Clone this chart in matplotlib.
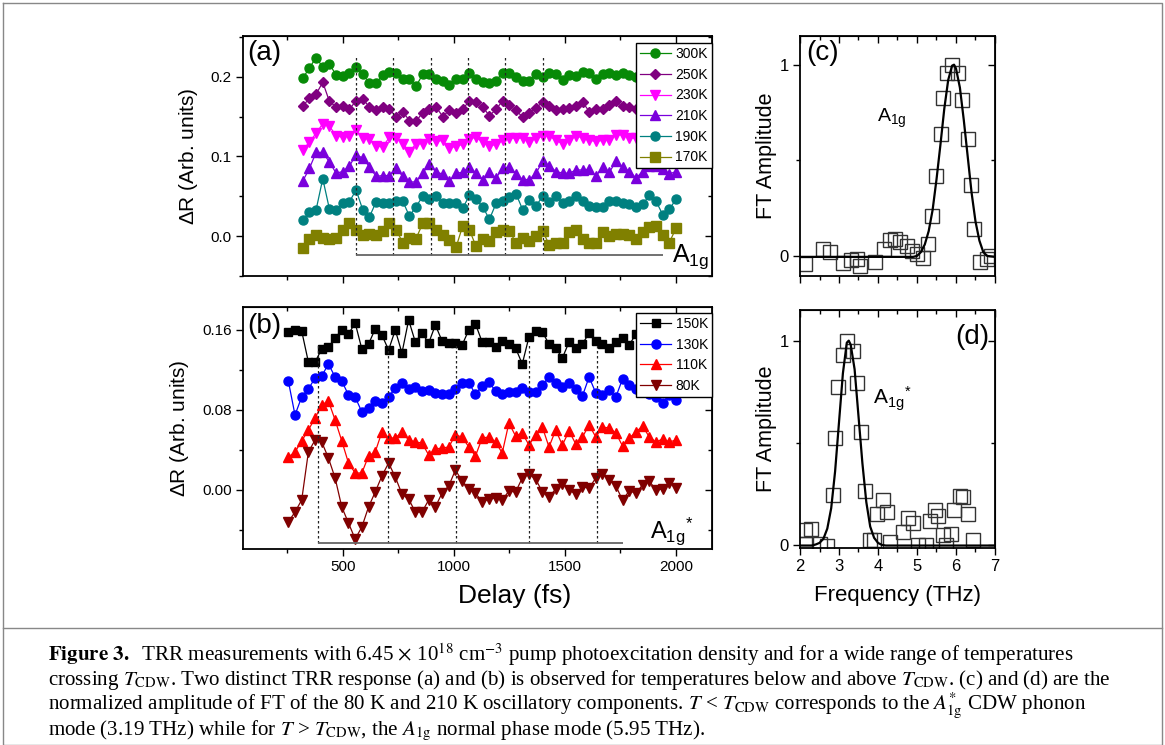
import numpy as np
import matplotlib
matplotlib.use('Agg')
import matplotlib.pyplot as plt
from matplotlib.ticker import MultipleLocator
from matplotlib.lines import Line2D

plt.rcParams['font.family'] = ['Liberation Sans', 'DejaVu Sans']
plt.rcParams['mathtext.fontset'] = 'custom'
plt.rcParams['mathtext.rm'] = 'Liberation Sans'
plt.rcParams['mathtext.it'] = 'Liberation Sans:italic'
plt.rcParams['mathtext.bf'] = 'Liberation Sans:bold'

# ---------------- data ----------------
# panel (a): T > T_CDW, delays 320..2000 fs
delay_a_start, delay_a_end = 320, 2000
r300 = [0.198, 0.211, 0.224, 0.212, 0.216, 0.202, 0.201, 0.205, 0.212, 0.203,
        0.192, 0.192, 0.202, 0.206, 0.205, 0.197, 0.197, 0.188, 0.203, 0.203,
        0.197, 0.195, 0.189, 0.197, 0.197, 0.204, 0.197, 0.193, 0.192, 0.195,
        0.205, 0.205, 0.199, 0.194, 0.195, 0.203, 0.200, 0.205, 0.203, 0.196,
        0.202, 0.201, 0.206, 0.204, 0.197, 0.203, 0.204, 0.202, 0.205, 0.202,
        0.199, 0.202, 0.201, 0.204, 0.200, 0.202, 0.203]
r250 = [0.163, 0.173, 0.178, 0.193, 0.169, 0.162, 0.163, 0.159, 0.170, 0.172,
        0.162, 0.158, 0.162, 0.159, 0.150, 0.156, 0.145, 0.144, 0.155, 0.159,
        0.162, 0.150, 0.158, 0.155, 0.160, 0.169, 0.168, 0.162, 0.151, 0.159,
        0.170, 0.164, 0.158, 0.149, 0.155, 0.161, 0.168, 0.163, 0.158, 0.159,
        0.161, 0.163, 0.168, 0.156, 0.159, 0.160, 0.165, 0.169, 0.163, 0.162,
        0.160, 0.162, 0.163, 0.160, 0.162, 0.161, 0.163]
r230 = [0.108, 0.118, 0.129, 0.141, 0.138, 0.126, 0.124, 0.126, 0.133, 0.123,
        0.122, 0.113, 0.112, 0.124, 0.123, 0.116, 0.106, 0.116, 0.116, 0.122,
        0.119, 0.120, 0.110, 0.113, 0.115, 0.122, 0.124, 0.118, 0.113, 0.115,
        0.120, 0.123, 0.123, 0.123, 0.118, 0.123, 0.125, 0.126, 0.120, 0.116,
        0.120, 0.126, 0.123, 0.120, 0.119, 0.120, 0.121, 0.127, 0.127, 0.123,
        0.123, 0.121, 0.124, 0.122, 0.125, 0.122, 0.123]
r210 = [0.069, 0.085, 0.105, 0.105, 0.093, 0.079, 0.081, 0.088, 0.102, 0.098,
        0.087, 0.075, 0.076, 0.076, 0.085, 0.075, 0.068, 0.068, 0.079, 0.091,
        0.080, 0.078, 0.069, 0.079, 0.080, 0.087, 0.079, 0.071, 0.080, 0.073,
        0.085, 0.087, 0.078, 0.071, 0.071, 0.079, 0.094, 0.088, 0.081, 0.079,
        0.079, 0.083, 0.083, 0.084, 0.075, 0.087, 0.080, 0.094, 0.087, 0.081,
        0.073, 0.081, 0.088, 0.088, 0.084, 0.078, 0.081]
r190 = [0.020, 0.030, 0.033, 0.072, 0.034, 0.033, 0.041, 0.043, 0.058, 0.033,
        0.024, 0.043, 0.041, 0.041, 0.044, 0.044, 0.025, 0.037, 0.050, 0.047,
        0.050, 0.041, 0.041, 0.041, 0.035, 0.051, 0.046, 0.037, 0.021, 0.041,
        0.044, 0.049, 0.053, 0.033, 0.045, 0.038, 0.050, 0.043, 0.050, 0.041,
        0.044, 0.050, 0.044, 0.038, 0.037, 0.037, 0.044, 0.044, 0.042, 0.040,
        0.037, 0.040, 0.051, 0.044, 0.027, 0.034, 0.046]
r170 = [-0.015, -0.004, 0.001, -0.002, -0.004, -0.002, 0.008, 0.016, 0.008, 0.002,
        0.003, 0.002, 0.006, 0.017, 0.008, -0.008, -0.002, -0.003, 0.016, 0.017,
        0.008, 0.002, -0.005, -0.014, 0.013, 0.008, -0.013, -0.003, -0.006, 0.005,
        0.008, 0.006, -0.008, -0.002, -0.006, 0.000, 0.006, -0.011, -0.008, -0.008,
        0.005, 0.008, -0.004, -0.008, -0.008, 0.005, 0.000, 0.003, 0.003, 0.002,
        -0.004, 0.005, 0.012, 0.013, 0.001, -0.008, 0.010]
labels_a = ['300K', '250K', '230K', '210K', '190K', '170K']
series_a = [r300, r250, r230, r210, r190, r170]
colors_a = ['#078a07', '#800080', '#ff00ff', '#7a00dc', '#008080', '#808000']
markers_a = ['o', 'D', 'v', '^', 'o', 's']
lines_a = [560, 728, 896, 1064, 1232, 1400]     # A1g period markers (fs)

# panel (b): T < T_CDW, delays 255..2000 fs
delay_b_start, delay_b_end = 255, 2000
r150 = [0.158, 0.160, 0.159, 0.128, 0.128, 0.141, 0.143, 0.152, 0.160, 0.156,
        0.167, 0.141, 0.146, 0.161, 0.155, 0.140, 0.160, 0.137, 0.170, 0.148,
        0.157, 0.147, 0.165, 0.149, 0.147, 0.147, 0.145, 0.160, 0.166, 0.148,
        0.148, 0.143, 0.149, 0.146, 0.142, 0.126, 0.153, 0.159, 0.158, 0.146,
        0.142, 0.132, 0.148, 0.142, 0.146, 0.157, 0.149, 0.146, 0.142, 0.148,
        0.152, 0.145, 0.156, 0.150, 0.153, 0.148, 0.155, 0.151, 0.153]
r130 = [0.109, 0.075, 0.093, 0.101, 0.112, 0.114, 0.126, 0.113, 0.109, 0.095,
        0.093, 0.078, 0.082, 0.089, 0.087, 0.093, 0.102, 0.107, 0.101, 0.103,
        0.099, 0.100, 0.097, 0.096, 0.096, 0.101, 0.107, 0.107, 0.096, 0.104,
        0.108, 0.099, 0.096, 0.098, 0.098, 0.102, 0.098, 0.098, 0.105, 0.113,
        0.107, 0.103, 0.107, 0.101, 0.094, 0.113, 0.097, 0.095, 0.100, 0.093,
        0.111, 0.105, 0.101, 0.098, 0.096, 0.093, 0.087, 0.095, 0.090]
r110 = [0.033, 0.038, 0.049, 0.060, 0.072, 0.085, 0.089, 0.070, 0.049, 0.027,
        0.017, 0.017, 0.034, 0.038, 0.058, 0.052, 0.052, 0.058, 0.050, 0.048,
        0.047, 0.035, 0.041, 0.042, 0.043, 0.055, 0.053, 0.043, 0.034, 0.052,
        0.053, 0.048, 0.037, 0.067, 0.054, 0.057, 0.045, 0.055, 0.063, 0.043,
        0.060, 0.045, 0.059, 0.046, 0.053, 0.065, 0.053, 0.063, 0.062, 0.057,
        0.044, 0.052, 0.058, 0.064, 0.053, 0.048, 0.051, 0.048, 0.050]
r80 = [-0.032, -0.022, -0.010, 0.038, 0.050, 0.048, 0.032, 0.012, -0.017, -0.033,
       -0.049, -0.037, -0.017, -0.002, 0.014, 0.027, 0.013, -0.004, -0.009, -0.022,
       -0.022, -0.010, -0.017, -0.003, 0.004, 0.020, 0.009, 0.001, -0.003, -0.012,
       -0.009, -0.008, -0.010, -0.001, -0.002, 0.012, 0.016, 0.011, -0.002, -0.007,
       0.001, 0.006, 0.000, -0.004, 0.003, 0.002, 0.012, 0.016, 0.010, 0.004,
       -0.010, -0.001, -0.003, 0.005, 0.009, 0.000, 0.001, 0.007, 0.002]
labels_b = ['150K', '130K', '110K', '80K']
series_b = [r150, r130, r110, r80]
colors_b = ['black', '#0000ff', '#ff0000', '#800000']
markers_b = ['s', 'o', '^', 'v']
lines_b = [388, 705, 1010, 1340, 1646]          # A1g* period markers (fs)

# panel (c): FT of 210 K
freq_c = [2.13, 2.58, 2.77, 3.11, 3.30, 3.45, 3.54, 3.92, 4.15, 4.31, 4.44, 4.56,
          4.74, 4.86, 4.99, 5.16, 5.29, 5.38, 5.49, 5.61, 5.66, 5.78, 5.89, 6.06,
          6.15, 6.32, 6.38, 6.47, 6.62, 6.79, 6.91]
amp_c = [-0.043, 0.038, 0.021, -0.035, -0.021, -0.014, -0.052, -0.031, 0.038, 0.083,
         0.087, 0.073, 0.052, 0.026, 0.009, -0.009, 0.061, 0.209, 0.417, 0.635,
         0.826, 0.957, 1.0, 0.957, 0.817, 0.612, 0.369, 0.143, -0.031, -0.017, 0.0]
fit_c_x = [2.0, 4.9, 5.0, 5.1, 5.2, 5.3, 5.4, 5.5, 5.6, 5.7, 5.8, 5.9, 5.95, 6.0, 6.1,
           6.2, 6.3, 6.4, 6.5, 6.6, 6.7, 6.8, 7.0]
fit_c_y = [-0.005, -0.005, 0.0, 0.02, 0.06, 0.13, 0.24, 0.40, 0.58, 0.77, 0.92, 0.995,
           1.0, 0.98, 0.88, 0.71, 0.52, 0.33, 0.18, 0.08, 0.02, 0.0, -0.005]

# panel (d): FT of 80 K
freq_d = [2.13, 2.27, 2.13, 2.51, 2.68, 2.84, 2.90, 2.98, 3.09, 3.21, 3.35, 3.45,
          3.56, 3.67, 3.79, 3.90, 3.98, 4.12, 4.22, 4.32, 4.65, 4.78, 4.89, 5.03,
          5.23, 5.33, 5.46, 5.55, 5.66, 5.75, 5.86, 5.95, 6.09, 6.19, 6.32, 6.43]
amp_d = [0.075, 0.078, 0.007, 0.007, -0.003, 0.246, 0.524, 0.773, 0.931, 0.997,
         0.948, 0.793, 0.551, 0.263, 0.023, 0.023, 0.153, 0.219, 0.160, 0.013,
         0.062, 0.132, 0.108, 0.002, 0.002, 0.116, 0.173, 0.140, 0.051, 0.002,
         0.054, 0.173, 0.241, 0.235, 0.153, 0.023]
fit_d_x = [2.0, 2.3, 2.4, 2.5, 2.6, 2.7, 2.8, 2.9, 3.0, 3.1, 3.2, 3.25, 3.3, 3.4,
           3.5, 3.6, 3.7, 3.8, 3.9, 4.0, 4.1, 4.2, 7.0]
fit_d_y = [-0.003, -0.003, 0.002, 0.01, 0.03, 0.08, 0.18, 0.36, 0.60, 0.84, 0.99,
           1.0, 0.98, 0.86, 0.63, 0.40, 0.21, 0.09, 0.035, 0.01, 0.0, -0.003, -0.003]

caption = [
    r"$\mathbf{Figure\ 3.}$  TRR measurements with 6.45 $\times$ 10$^{18}$ cm$^{-3}$ pump photoexcitation density and for a wide range of temperatures",
    r"crossing $T_{\mathrm{CDW}}$. Two distinct TRR response (a) and (b) is observed for temperatures below and above $T_{\mathrm{CDW}}$. (c) and (d) are the",
    r"normalized amplitude of FT of the 80 K and 210 K oscillatory components. $T$ < $T_{\mathrm{CDW}}$ corresponds to the $A^{*}_{\mathrm{1g}}$ CDW phonon",
    r"mode (3.19 THz) while for $T$ > $T_{\mathrm{CDW}}$, the $A_{\mathrm{1g}}$ normal phase mode (5.95 THz).",
]
caption_y = [655, 680, 705, 731]

# ---------------- layout ----------------
W, H = 1165, 745
fig = plt.figure(figsize=(W / 100, H / 100), dpi=100)


def px_box(l, t, r, b):
    return [l / W, 1 - b / H, (r - l) / W, (b - t) / H]


def style(ax, xmaj, xmin, ymaj, ymin):
    for s in ax.spines.values():
        s.set_linewidth(1.3)
    ax.xaxis.set_major_locator(MultipleLocator(xmaj))
    ax.xaxis.set_minor_locator(MultipleLocator(xmin))
    ax.yaxis.set_major_locator(MultipleLocator(ymaj))
    ax.yaxis.set_minor_locator(MultipleLocator(ymin))
    ax.tick_params(which='both', direction='out', width=1.0, labelsize=11, pad=3)
    ax.tick_params(which='major', length=5)
    ax.tick_params(which='minor', length=3)
    # mirrored ticks pointing inwards on top / right
    top = ax.secondary_xaxis('top')
    top.xaxis.set_major_locator(MultipleLocator(xmaj))
    top.xaxis.set_minor_locator(MultipleLocator(xmin))
    top.tick_params(which='both', direction='in', labeltop=False, width=1.0)
    top.tick_params(which='major', length=5)
    top.tick_params(which='minor', length=3)
    right = ax.secondary_yaxis('right')
    right.yaxis.set_major_locator(MultipleLocator(ymaj))
    right.yaxis.set_minor_locator(MultipleLocator(ymin))
    right.tick_params(which='both', direction='in', labelright=False, width=1.0)
    right.tick_params(which='major', length=5)
    right.tick_params(which='minor', length=3)


ax_a = fig.add_axes(px_box(243, 36, 712, 276))
ax_b = fig.add_axes(px_box(243, 307, 712, 549))
ax_c = fig.add_axes(px_box(800, 36, 995, 276))
ax_d = fig.add_axes(px_box(800, 310, 995, 548))

xlim_t = (51, 2162)
leg_kw = dict(loc='upper right', borderaxespad=0, fancybox=False, edgecolor='black',
              framealpha=1, fontsize=10, handlelength=2.2, handletextpad=0.35,
              labelspacing=0.48, borderpad=0.28)

# ---- (a)
for y, lab, c, m in zip(series_a, labels_a, colors_a, markers_a):
    x = np.linspace(delay_a_start, delay_a_end, len(y))
    ax_a.plot(x, y, color=c, marker=m, ms=6.5 if m != 'D' else 5.5, lw=0.9,
              label=lab, mec=c, mfc=c)
ax_a.vlines(lines_a, -0.024, 0.227, colors='#222222', linestyles=(0, (2, 2)), lw=0.9)
ax_a.hlines(-0.024, lines_a[0], 1940, colors='#666666', lw=1.3)
ax_a.set_xlim(*xlim_t)
ax_a.set_ylim(-0.05, 0.251)
style(ax_a, 500, 250, 0.1, 0.05)
ax_a.tick_params(labelbottom=False)
ax_a.yaxis.set_major_formatter(plt.FormatStrFormatter('%.1f'))
ax_a.set_ylabel(r'$\Delta$R (Arb. units)', fontsize=15, labelpad=8)
ax_a.text(0.008, 0.985, '(a)', transform=ax_a.transAxes, fontsize=20, va='top', ha='left')
ax_a.text(1982, -0.0316, r'A$_{\rm 1g}$', fontsize=18, ha='left', va='baseline')
ax_a.legend(bbox_to_anchor=(1.0, 0.97), **leg_kw)

# ---- (b)
for y, lab, c, m in zip(series_b, labels_b, colors_b, markers_b):
    x = np.linspace(delay_b_start, delay_b_end, len(y))
    ax_b.plot(x, y, color=c, marker=m, ms=6.5 if m != 's' else 5.5, lw=0.9,
              label=lab, mec=c, mfc=c)
ax_b.vlines(lines_b, -0.053, 0.145, colors='#222222', linestyles=(0, (2, 2)), lw=0.9)
ax_b.hlines(-0.053, lines_b[0], 1763, colors='#666666', lw=1.3)
ax_b.set_xlim(*xlim_t)
ax_b.set_ylim(-0.059, 0.183)
style(ax_b, 500, 250, 0.08, 0.04)
ax_b.yaxis.set_major_formatter(plt.FormatStrFormatter('%.2f'))
ax_b.set_ylabel(r'$\Delta$R (Arb. units)', fontsize=15, labelpad=8)
ax_b.set_xlabel('Delay (fs)', fontsize=19)
ax_b.xaxis.set_label_coords((515 - 243) / 469, -0.145)
ax_b.text(0.008, 0.975, '(b)', transform=ax_b.transAxes, fontsize=20, va='top', ha='left')
ax_b.text(1883, -0.048, r'A$_{\rm 1g}{}^{*}$', fontsize=17, ha='left', va='baseline')
ax_b.legend(bbox_to_anchor=(1.0, 0.975), **leg_kw)

# ---- (c)
ax_c.plot(freq_c, amp_c, ls='none', marker='s', ms=10, mfc='none', mec='#333333', mew=1.0)
ax_c.plot(fit_c_x, fit_c_y, color='black', lw=1.6)
ax_c.set_xlim(2, 7)
ax_c.set_ylim(-0.105, 1.15)
style(ax_c, 1, 0.5, 1, 0.5)
ax_c.tick_params(labelbottom=False, labelsize=12)
ax_c.set_ylabel('FT Amplitude', fontsize=15.5, labelpad=2)
ax_c.text(0.03, 0.985, '(c)', transform=ax_c.transAxes, fontsize=20, va='top', ha='left')
ax_c.text(3.97, 0.70, r'A$_{\rm 1g}$', fontsize=14, ha='left', va='baseline')

# ---- (d)
ax_d.plot(freq_d, amp_d, ls='none', marker='s', ms=10, mfc='none', mec='#333333', mew=1.0)
ax_d.plot(fit_d_x, fit_d_y, color='black', lw=1.6)
ax_d.set_xlim(2, 7)
ax_d.set_ylim(-0.015, 1.15)
style(ax_d, 1, 0.5, 1, 0.5)
ax_d.tick_params(labelsize=12)
ax_d.set_ylabel('FT Amplitude', fontsize=15.5, labelpad=2)
ax_d.set_xlabel('Frequency (THz)', fontsize=16)
ax_d.xaxis.set_label_coords(0.5, -0.155)
ax_d.text(0.97, 0.94, '(d)', transform=ax_d.transAxes, fontsize=20, va='top', ha='right')
ax_d.text(3.87, 0.687, r'A$_{\rm 1g}{}^{*}$', fontsize=15, ha='left', va='baseline')

# ---- frame and caption
fig.add_artist(Line2D([3 / W, 1162 / W, 1162 / W, 3 / W, 3 / W],
                      [1 - 3 / H, 1 - 3 / H, 0, 0, 1 - 3 / H],
                      transform=fig.transFigure, color='#888888', lw=1.0))
fig.add_artist(Line2D([3 / W, 1162 / W], [1 - 628 / H, 1 - 628 / H],
                      transform=fig.transFigure, color='#888888', lw=1.0))
for yy, line in zip(caption_y, caption):
    fig.text(48 / W, 1 - yy / H, line, fontsize=15.1,
             family=['Liberation Serif', 'DejaVu Serif'], math_fontfamily='stix',
             ha='left', va='center')

fig.savefig('out.png', dpi=100)
